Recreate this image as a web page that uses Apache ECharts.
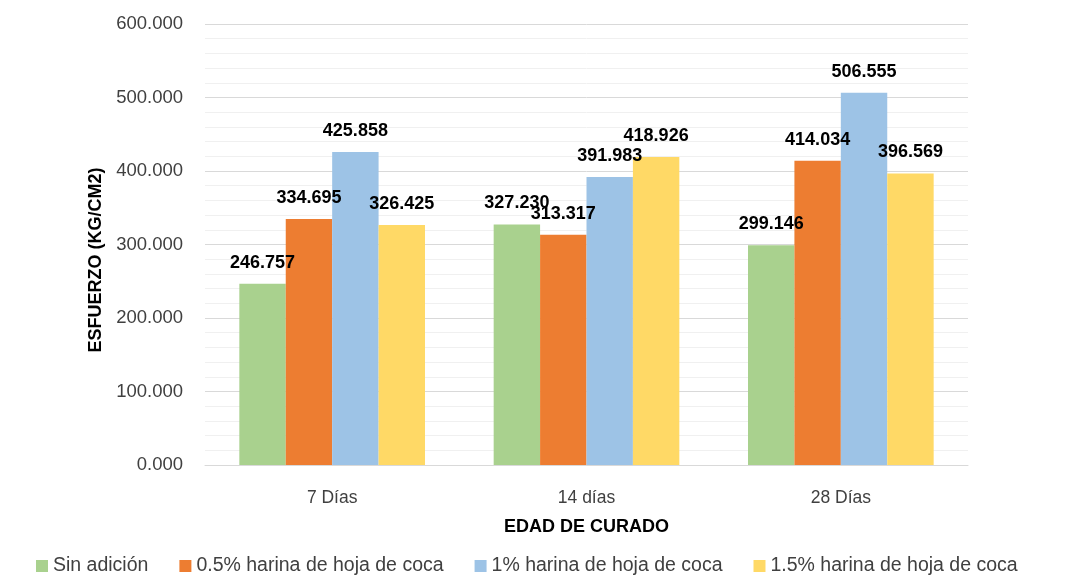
<!DOCTYPE html>
<html><head><meta charset="utf-8">
<script src="https://cdn.jsdelivr.net/npm/echarts@6/dist/echarts.min.js"></script>
<style>html,body{margin:0;padding:0;background:#fff}#c{width:1084px;height:586px}</style>
</head><body><div id="c"></div>
<script>
const categories = ['7 Días', '14 días', '28 Días'];
const seriesNames = ['Sin adición', '0.5% harina de hoja de coca', '1% harina de hoja de coca', '1.5% harina de hoja de coca'];
const sinAdicion = [246.757, 327.230, 299.146];
const harina05 = [334.695, 313.317, 414.034];
const harina1 = [425.858, 391.983, 506.555];
const harina15 = [326.425, 418.926, 396.569];
const colors = ['#A9D18E', '#ED7D31', '#9DC3E6', '#FFD966'];
const values = [sinAdicion, harina05, harina1, harina15];
const FONT = "'Liberation Sans',sans-serif";

const chart = echarts.init(document.getElementById('c'));
chart.setOption({
  animation: false,
  textStyle: { fontFamily: FONT },
  grid: { left: 205, right: 116, top: 24, bottom: 121 },
  legend: {
    top: 551, left: 31, itemWidth: 12, itemHeight: 12, itemGap: 31,
    icon: 'rect',
    textStyle: { fontFamily: FONT, fontSize: 19.5, color: '#404040' },
    data: seriesNames
  },
  xAxis: {
    type: 'category', data: categories,
    name: 'EDAD DE CURADO', nameLocation: 'middle', nameGap: 53,
    nameTextStyle: { fontFamily: FONT, fontWeight: 'bold', fontSize: 18, color: '#000' },
    axisLine: { lineStyle: { color: '#d9d9d9', width: 1 } },
    axisTick: { show: false },
    axisLabel: { fontFamily: FONT, fontSize: 17.5, color: '#404040', margin: 24 }
  },
  yAxis: {
    type: 'value', min: 0, max: 600, interval: 100,
    name: 'ESFUERZO (KG/CM2)', nameLocation: 'middle', nameGap: 100,
    nameTextStyle: { fontFamily: FONT, fontWeight: 'bold', fontSize: 18, color: '#000', padding: [0, 31, 0, 0] },
    axisLine: { show: false }, axisTick: { show: false },
    axisLabel: { fontFamily: FONT, fontSize: 18.5, color: '#404040', margin: 22, formatter: v => v.toFixed(3) },
    splitLine: { lineStyle: { color: '#d9d9d9', width: 1 } },
    minorTick: { show: false, splitNumber: 5 },
    minorSplitLine: { show: true, lineStyle: { color: '#f0f0f0', width: 1 } }
  },
  series: values.map((arr, i) => ({
    name: seriesNames[i], type: 'bar', data: arr,
    barGap: '0%', barCategoryGap: '27%',
    itemStyle: { color: colors[i] },
    label: {
      show: true, position: 'top', distance: 12,
      fontFamily: FONT, fontWeight: 'bold', fontSize: 18, color: '#000',
      formatter: p => p.value.toFixed(3)
    }
  }))
});
</script></body></html>
